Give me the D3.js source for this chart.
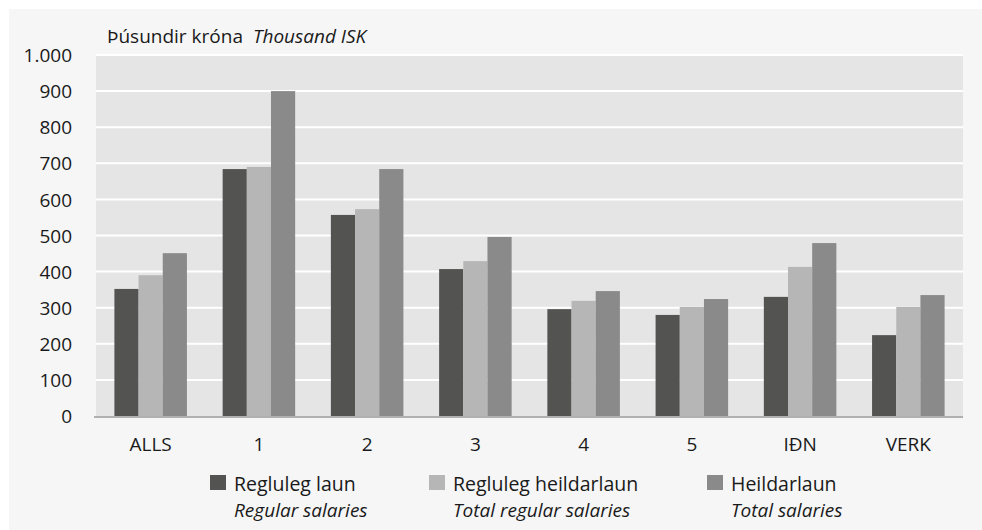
<!DOCTYPE html>
<html>
<head>
<meta charset="utf-8">
<script src="https://cdn.jsdelivr.net/npm/d3@7"></script>
<style>
  body { margin: 0; background: #ffffff; }
  svg text { font-family: "Open Sans", "Noto Sans", sans-serif; fill: #1a1a1a; }
</style>
</head>
<body>
<div id="app"></div>
<script>
// data (thousand ISK)
const categories = ["ALLS", "1", "2", "3", "4", "5", "IÐN", "VERK"];
const regular = [352, 684, 557, 407, 296, 280, 330, 224];
const totalRegular = [390, 690, 573, 429, 319, 302, 413, 302];
const total = [451, 900, 684, 496, 346, 324, 479, 335];
const yTicks = [0, 100, 200, 300, 400, 500, 600, 700, 800, 900, 1000];

const seriesNames = [
  { is: "Regluleg laun", en: "Regular salaries", color: "#535352", values: regular },
  { is: "Regluleg heildarlaun", en: "Total regular salaries", color: "#b5b6b5", values: totalRegular },
  { is: "Heildarlaun", en: "Total salaries", color: "#8a8a8a", values: total }
];

const width = 982, height = 530;
const plot = { left: 96, right: 963, top: 55, bottom: 416 };

const svg = d3.select("#app").append("svg")
  .attr("width", width).attr("height", height);

// outer panel
svg.append("rect").attr("x", 9).attr("y", 9).attr("width", width - 9).attr("height", height - 9)
  .attr("fill", "#f6f6f6");

const x = d3.scaleBand().domain(categories).range([plot.left, plot.right]).paddingInner(0.33).paddingOuter(0.17);
const xSub = d3.scaleBand().domain(d3.range(seriesNames.length)).range([0, x.bandwidth()]);
const y = d3.scaleLinear().domain([0, 1000]).range([plot.bottom, plot.top]);

// plot background
svg.append("rect").attr("x", plot.left).attr("y", plot.top)
  .attr("width", plot.right - plot.left).attr("height", plot.bottom - plot.top)
  .attr("fill", "#e5e5e5");

// grid lines
svg.append("g").selectAll("line").data(yTicks.filter(d => d > 0)).join("line")
  .attr("x1", plot.left).attr("x2", plot.right)
  .attr("y1", d => y(d)).attr("y2", d => y(d))
  .attr("stroke", "#ffffff").attr("stroke-width", 2);

// bars
const groups = svg.append("g").selectAll("g").data(categories).join("g")
  .attr("transform", d => `translate(${x(d)},0)`);
groups.selectAll("rect").data((c, i) => seriesNames.map((s, k) => ({ k, v: s.values[i], color: s.color })))
  .join("rect")
  .attr("x", d => xSub(d.k))
  .attr("width", xSub.bandwidth())
  .attr("y", d => y(d.v))
  .attr("height", d => y(0) - y(d.v))
  .attr("fill", d => d.color);

// baseline
svg.append("line").attr("x1", plot.left - 2).attr("x2", plot.right)
  .attr("y1", plot.bottom + 1).attr("y2", plot.bottom + 1)
  .attr("stroke", "#b0b0b0").attr("stroke-width", 2);

// y axis labels
const fmt = d => d3.format(",")(d).replace(/,/g, ".");
const yAxis = svg.append("g").attr("transform", `translate(${plot.left - 12},0)`)
  .call(d3.axisLeft(y).tickValues(yTicks).tickFormat(fmt).tickSize(0).tickPadding(12));
yAxis.select(".domain").remove();
yAxis.selectAll("text").style("font-size", "19px").attr("dy", "0.35em").attr("fill", "#1a1a1a");

// x axis labels
const xAxis = svg.append("g").attr("transform", `translate(0,${plot.bottom})`)
  .call(d3.axisBottom(x).tickSize(0).tickPadding(0));
xAxis.select(".domain").remove();
xAxis.selectAll("text").style("font-size", "19px").attr("dy", null).attr("y", 35).attr("fill", "#1a1a1a");

// unit label
const unit = svg.append("text").attr("x", 107).attr("y", 43).style("font-size", "19px");
unit.append("tspan").text("Þúsundir króna");
unit.append("tspan").attr("dx", 10).style("font-style", "italic").text("Thousand ISK");

// legend
const legendX = [210, 429, 707];
const legend = svg.append("g").selectAll("g").data(seriesNames).join("g")
  .attr("transform", (d, i) => `translate(${legendX[i]},475)`);
legend.append("rect").attr("width", 16).attr("height", 15).attr("fill", d => d.color);
legend.append("text").attr("x", 24).attr("y", 16).style("font-size", "19.5px").text(d => d.is);
legend.append("text").attr("x", 24).attr("y", 42).style("font-size", "19px")
  .style("font-style", "italic").text(d => d.en);
</script>
</body>
</html>
